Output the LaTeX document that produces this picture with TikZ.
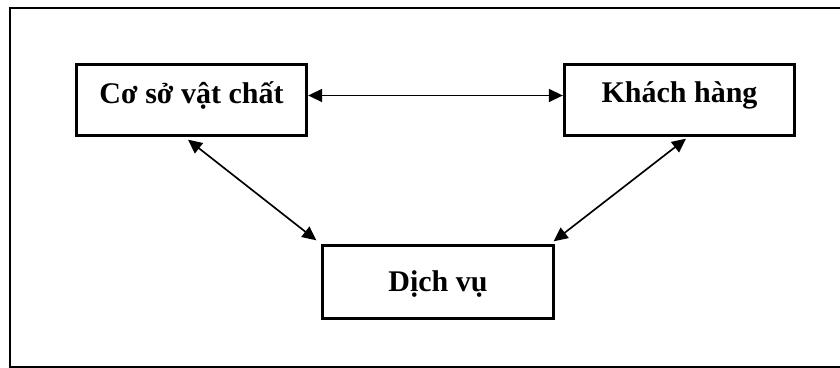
\documentclass[tikz,border=0pt]{standalone}
\usepackage{fontspec}
\setmainfont{Liberation Serif}
\usetikzlibrary{arrows.meta,calc}
\begin{document}
\begin{tikzpicture}[x=0.75pt,y=-0.75pt,
  box/.style={draw, line width=2.5pt, inner sep=0pt, minimum width=172.5pt,
    font=\fontsize{22.5pt}{27pt}\selectfont\bfseries},
  arr/.style={line width=1.25pt, {Triangle[length=10.5pt,width=9.75pt]}-{Triangle[length=10.5pt,width=9.75pt]}},
  outerline/.style={line width=1.3pt}]
\useasboundingbox (0,0) rectangle (840,368);
\draw[outerline] (850,7.7) -- (10.3,7.7) -- (10.3,366.7) -- (850,366.7);
\node[box, minimum height=53.25pt, text height=12pt, text depth=7.5pt] (b1) at (191.5,100) {Cơ sở vật chất};
\node[box, minimum height=53.25pt, text height=12pt, text depth=8.25pt] (b2) at (679.5,100) {Khách hàng};
\node[box, minimum width=173.25pt, minimum height=54.75pt, text height=15pt, text depth=1.5pt] (b3) at (438,282) {Dịch vụ};
\draw[arr] ($(b1.east)+(0,-4.5)$) -- ($(b2.west)+(0,-4.5)$);
\draw[arr] ($(b1.south)+(-3.5,2.5)$) -- ($(b3.north west)+(-4.5,-3.5)$);
\draw[arr] ($(b2.south)+(6.5,1.5)$) -- ($(b3.north east)+(-1.5,-2.5)$);
\end{tikzpicture}
\end{document}
